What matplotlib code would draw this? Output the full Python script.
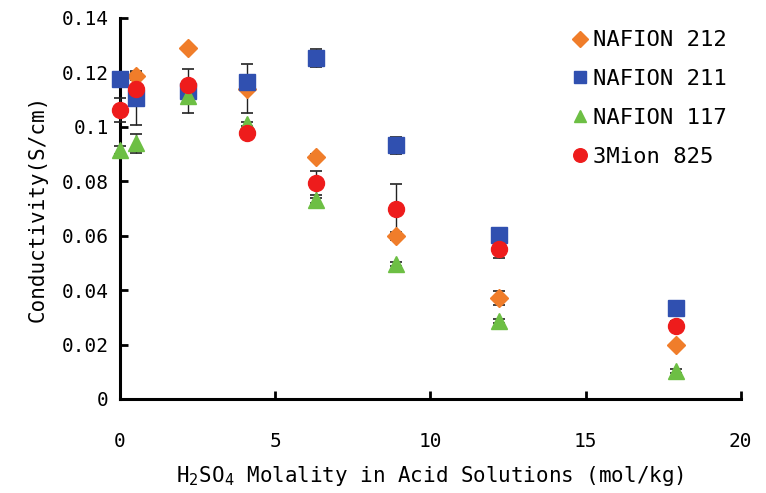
import matplotlib
matplotlib.use('Agg')
import matplotlib.pyplot as plt
import numpy as np

plt.rcParams['font.family'] = ['DejaVu Sans Mono']

molality = [0.0, 0.5, 2.2, 4.1, 6.3, 8.9, 12.2, 17.9]

# conductivity, S/cm
nafion212 = [np.nan, 0.1187, 0.1290, 0.1140, 0.0889, 0.0600, 0.0371, 0.0198]
nafion212_err = [0.0, 0.0015, 0.0008, 0.0090, 0.0010, 0.0015, 0.0027, 0.0008]
nafion211 = [0.1176, 0.1106, 0.1132, 0.1165, 0.1253, 0.0933, 0.0603, 0.0334]
nafion211_err = [0.0008, 0.0100, 0.0080, 0.0020, 0.0033, 0.0031, 0.0008, 0.0010]
nafion117 = [0.0915, 0.0940, 0.1113, 0.1010, 0.0730, 0.0495, 0.0287, 0.0103]
nafion117_err = [0.0015, 0.0035, 0.0008, 0.0008, 0.0008, 0.0008, 0.0008, 0.0008]
mion825 = [0.1062, 0.1139, 0.1154, 0.0977, 0.0794, 0.0698, 0.0551, 0.0268]
mion825_err = [0.0045, 0.0008, 0.0008, 0.0008, 0.0044, 0.0092, 0.0032, 0.0020]

series = [
	('NAFION 212', nafion212, nafion212_err, 'D', '#f07d2a', 9),
	('NAFION 211', nafion211, nafion211_err, 's', '#3050b0', 11),
	('NAFION 117', nafion117, nafion117_err, '^', '#6dbf44', 11),
	('3Mion 825', mion825, mion825_err, 'o', '#ee1c1c', 11.5),
]

fig = plt.figure(figsize=(7.66, 4.93), dpi=100)
ax = fig.add_axes([0.1567, 0.1907, 0.8103, 0.7728])

for name, y, err, m, c, ms in series:
	ax.errorbar(molality, y, yerr=err, fmt='none', ecolor='#222222', elinewidth=1.0,
		capsize=4, capthick=1.2, zorder=1, clip_on=False)
	ax.plot(molality, y, ls='none', marker=m, color=c, markersize=ms, mec=c,
		label=name, zorder=2, clip_on=False)

ax.set_xlim(0, 20)
ax.set_ylim(0, 0.14)
ax.set_xticks([0, 5, 10, 15, 20])
ax.set_yticks([0, 0.02, 0.04, 0.06, 0.08, 0.1, 0.12, 0.14])
ax.set_yticklabels(['0', '0.02', '0.04', '0.06', '0.08', '0.1', '0.12', '0.14'])
ax.spines[['top', 'right']].set_visible(False)
for s in ('left', 'bottom'):
	ax.spines[s].set_linewidth(2.2)
	ax.spines[s].set_zorder(0.5)
ax.tick_params(axis='both', direction='in', length=6, width=2, labelsize=14)
ax.tick_params(axis='x', pad=24)
ax.tick_params(axis='y', pad=8)

ax.set_xlabel('H$_2$SO$_4$ Molality in Acid Solutions (mol/kg)', fontsize=15, labelpad=9)
ax.set_ylabel('Conductivity(S/cm)', fontsize=15, labelpad=10)

ax.legend(loc='upper right', bbox_to_anchor=(1.01, 1.02), frameon=False, fontsize=16,
	handletextpad=0.1, handlelength=1.0, labelspacing=0.85, markerscale=0.85)

fig.savefig('out.png', dpi=100)
